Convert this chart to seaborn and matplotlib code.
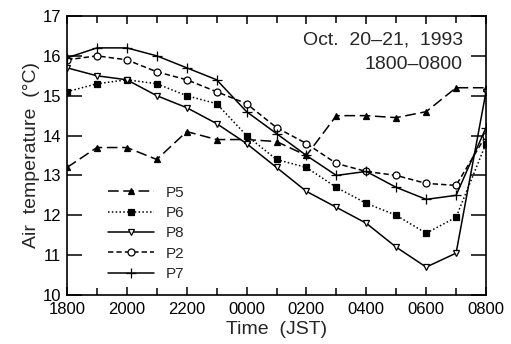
import numpy as np
import pandas as pd
import matplotlib
matplotlib.use("Agg")
import matplotlib.pyplot as plt
import seaborn as sns

# hourly air temperature, 1800 -> 0800 JST
hours = ["1800", "1900", "2000", "2100", "2200", "2300", "0000", "0100",
         "0200", "0300", "0400", "0500", "0600", "0700", "0800"]
p5 = [13.2, 13.7, 13.7, 13.4, 14.1, 13.9, 13.9, 13.85, 13.5, 14.5, 14.5, 14.45, 14.6, 15.2, 15.2]
p6 = [15.1, 15.3, 15.4, 15.3, 15.0, 14.8, 14.0, 13.4, 13.2, 12.7, 12.3, 12.0, 11.55, 11.95, 13.8]
p8 = [15.7, 15.5, 15.4, 15.0, 14.7, 14.3, 13.8, 13.2, 12.6, 12.2, 11.8, 11.2, 10.7, 11.05, 15.1]
p2 = [15.9, 16.0, 15.9, 15.6, 15.4, 15.1, 14.8, 14.2, 13.8, 13.3, 13.1, 13.0, 12.8, 12.75, 14.0]
p7 = [15.95, 16.2, 16.2, 16.0, 15.7, 15.4, 14.6, 14.05, 13.5, 13.0, 13.1, 12.7, 12.4, 12.5, 14.2]

sns.set_style("ticks")
plt.rcParams['font.family'] = ['Liberation Sans', 'DejaVu Sans']

fig = plt.figure(figsize=(5.11, 3.44), dpi=100)
ax = fig.add_axes([67 / 511, 1 - 295 / 344, 419 / 511, 279 / 344])

x = np.arange(len(hours))
series = [
    ("P5", p5, "^", "black", (0, (7, 3))),
    ("P6", p6, "s", "black", (0, (1, 1.5))),
    ("P8", p8, "v", "white", "-"),
    ("P2", p2, "o", "white", (0, (3.5, 2))),
    ("P7", p7, "+", "black", "-"),
]
for name, vals, mk, fc, ls in series:
    df = pd.DataFrame({"hour": x, "temp": vals})
    sns.lineplot(data=df, x="hour", y="temp", ax=ax, color="black", lw=1.1,
                 linestyle=ls, marker=mk, markersize=5 if mk != "+" else 7,
                 markerfacecolor=fc, markeredgecolor="black", markeredgewidth=0.9,
                 label=name)

ax.set_xlim(0, 14)
ax.set_ylim(10, 17)
ax.set_xticks(x[::2])
ax.set_xticklabels(hours[::2])
ax.set_xticks(x[1::2], minor=True)
ax.set_yticks(np.arange(10, 18))
ax.tick_params(axis="both", which="both", direction="in", top=True, right=True,
               labelsize=12, width=1.1, color="black", labelcolor="black")
ax.tick_params(axis="x", which="major", length=6, pad=5)
ax.tick_params(axis="x", which="minor", length=5)
ax.tick_params(axis="y", which="major", length=11, pad=4)
for sp in ax.spines.values():
    sp.set_linewidth(1.2)
    sp.set_color("black")

ax.set_xlabel("Time  (JST)", fontsize=14, labelpad=3)
ax.set_ylabel("Air  temperature  (°C)", fontsize=14, labelpad=2)

ax.text(0.945, 0.915, "Oct.  20\u201321,  1993", transform=ax.transAxes,
        ha="right", va="center", fontsize=14)
ax.text(0.945, 0.825, "1800\u20130800", transform=ax.transAxes,
        ha="right", va="center", fontsize=14)

leg = ax.legend(loc="lower left", bbox_to_anchor=(0.065, 0.0), frameon=False,
                fontsize=11, handlelength=3.0, labelspacing=0.42, handletextpad=0.8)

fig.savefig("out.png", dpi=100)
